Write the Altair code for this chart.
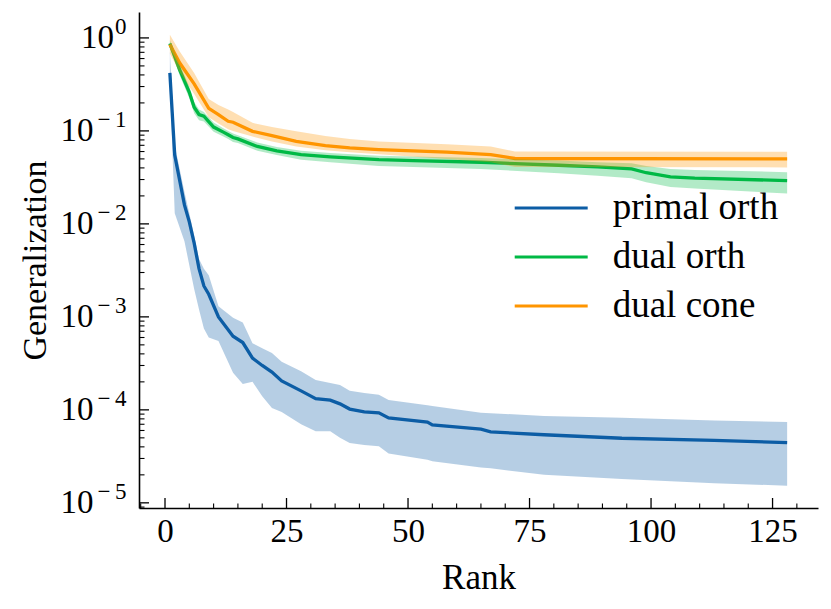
import altair as alt
import pandas as pd

series_names = ["primal orth", "dual orth", "dual cone"]
colors = ["#0C5DA5", "#00B945", "#FF9500"]

primal_rank = [1, 2, 4, 5, 6, 7, 8, 9, 11, 14, 16, 18, 20, 22, 24, 28, 31, 34, 36, 38, 41, 44, 46, 54, 55, 65, 67, 78, 94, 113, 128]
primal_mean = [0.42, 0.055, 0.016, 0.0105, 0.0062, 0.0033, 0.00215, 0.00175, 0.001, 0.00062, 0.00053, 0.00036, 0.0003, 0.000255, 0.000205, 0.00016, 0.000132, 0.000127, 0.000116, 0.000102, 0.000095, 0.000093, 0.000082, 0.000074, 0.000069, 0.000062, 0.000058, 0.000054, 0.0000495, 0.000047, 0.0000445]
primal_hi = [0.72, 0.07, 0.022, 0.013, 0.0075, 0.0042, 0.0033, 0.0028, 0.0013, 0.00098, 0.00087, 0.00052, 0.00046, 0.00041, 0.00033, 0.00026, 0.00021, 0.000195, 0.000185, 0.00016, 0.000152, 0.000145, 0.000128, 0.000112, 0.00011, 0.000093, 0.000092, 0.000086, 0.000082, 0.000077, 0.000074]
primal_lo = [0.33, 0.013, 0.0065, 0.0036, 0.002, 0.0012, 0.00075, 0.0006, 0.00055, 0.00025, 0.00019, 0.0002, 0.00014, 0.000105, 0.000095, 0.00007, 0.000059, 0.000059, 0.00005, 0.000044, 0.000042, 0.0000405, 0.000034, 0.000029, 0.000028, 0.000024, 0.0000235, 0.00002, 0.000018, 0.0000162, 0.0000153]

dorth_rank = [1, 3, 5, 6, 7, 8, 10, 12, 13, 14, 15, 19, 23, 28, 34, 44, 51, 65, 81, 89, 96, 99, 104, 109, 128]
dorth_mean = [0.87, 0.456, 0.26, 0.18, 0.15, 0.144, 0.11, 0.097, 0.091, 0.085, 0.082, 0.068, 0.061, 0.0556, 0.0525, 0.049, 0.048, 0.046, 0.0427, 0.041, 0.039, 0.0355, 0.032, 0.031, 0.0292]
dorth_hi = [0.95, 0.52, 0.30, 0.205, 0.17, 0.16, 0.123, 0.107, 0.1, 0.094, 0.09, 0.075, 0.067, 0.061, 0.058, 0.054, 0.053, 0.051, 0.048, 0.046, 0.045, 0.042, 0.039, 0.038, 0.036]
dorth_lo = [0.78, 0.40, 0.225, 0.155, 0.13, 0.126, 0.098, 0.087, 0.082, 0.076, 0.074, 0.061, 0.055, 0.049, 0.046, 0.042, 0.041, 0.039, 0.035, 0.033, 0.031, 0.028, 0.025, 0.024, 0.0212]

dcone_rank = [1, 3, 6, 9, 11, 13, 14, 18, 22, 27, 33, 38, 44, 58, 67, 72, 128]
dcone_mean = [0.85, 0.54, 0.32, 0.175, 0.15, 0.127, 0.124, 0.099, 0.089, 0.077, 0.0695, 0.0656, 0.063, 0.059, 0.0556, 0.0505, 0.050]
dcone_hi = [1.08, 0.72, 0.42, 0.22, 0.19, 0.17, 0.16, 0.122, 0.11, 0.099, 0.088, 0.082, 0.077, 0.072, 0.068, 0.060, 0.0595]
dcone_lo = [0.68, 0.43, 0.25, 0.14, 0.12, 0.104, 0.1, 0.087, 0.077, 0.068, 0.062, 0.059, 0.056, 0.050, 0.046, 0.041, 0.0405]

y_major = [1e-5, 1e-4, 1e-3, 1e-2, 1e-1, 1e0]
y_minor = [9e-6] + [m * 10.0 ** k for k in range(-5, 0) for m in range(2, 10)]
x_major = [0, 25, 50, 75, 100, 125]
x_minor = [-5] + [v for v in range(5, 135, 5) if v % 25]

rows = []
for name, xs, ms, his, los in [
    ("primal orth", primal_rank, primal_mean, primal_hi, primal_lo),
    ("dual orth", dorth_rank, dorth_mean, dorth_hi, dorth_lo),
    ("dual cone", dcone_rank, dcone_mean, dcone_hi, dcone_lo),
]:
    for i in range(len(xs)):
        rows.append({"series": name, "x": xs[i], "mean": ms[i], "hi": his[i], "lo": los[i]})
df = pd.DataFrame(rows)

W, H = 679, 496
FONT = "Liberation Serif"

xscale = alt.Scale(domain=[-5.35, 134.35], nice=False, zero=False)
yscale = alt.Scale(type="log", domain=[8.8e-6, 1.9], nice=False)

xaxis = alt.Axis(values=x_major, ticks=False, grid=False, domain=True, domainColor="black",
                 domainWidth=1.6, labelFont=FONT, labelFontSize=33, labelColor="black",
                 labelPadding=33, labelBaseline="alphabetic", labelFlush=False, labelOverlap=False,
                 title="Rank", titleFont=FONT, titleFontSize=35, titleFontWeight="normal",
                 titleColor="black", titleY=80, titleBaseline="alphabetic")

x_enc = alt.X("x:Q", scale=xscale, axis=xaxis)

y_main_axis = alt.Axis(values=y_major, labelExpr="'10'", ticks=False, grid=False, domain=True,
                       domainColor="black", domainWidth=1.6, labelFont=FONT, labelFontSize=33,
                       labelColor="black", labelAlign="right", labelOverlap=False, labelFlush=False,
                       labelPadding={"condition": {"test": "datum.value > 0.5", "value": 25.5}, "value": 46},
                       title="Generalization", titleFont=FONT, titleFontSize=34, titleFontWeight="normal",
                       titleColor="black", titleX=-94, titleY=H / 2, titleBaseline="alphabetic",
                       titleAngle=270, orient="left")

y_exp_axis = alt.Axis(values=y_major,
                      labelExpr="datum.value > 0.5 ? '0' : '\u2212\u2009' + round(-log(datum.value) / LN10)",
                      ticks=False, grid=False, domain=False, labelFont=FONT, labelFontSize=23,
                      labelColor="black", labelAlign="right", labelPadding=13, labelOffset=-11,
                      labelOverlap=False, labelFlush=False, title=None, orient="left")

color_scale = alt.Scale(domain=series_names, range=colors)
legend = alt.Legend(orient="none", legendX=383.7, legendY=167.5, title=None,
                    symbolType="M-1.377,0L1.377,0", symbolSize=2809, symbolStrokeWidth=3.2,
                    symbolOpacity=1, symbolFillColor="transparent",
                    labelFont=FONT, labelFontSize=37, labelColor="black", labelLimit=500,
                    labelOffset=33, padding=0, rowPadding=2)
color_enc = alt.Color("series:N", scale=color_scale, legend=legend)

base = alt.Chart(df)

bands = base.mark_area(opacity=0.3, strokeWidth=0).encode(
    x=x_enc,
    y=alt.Y("lo:Q", scale=yscale, axis=None),
    y2="hi:Q",
    color=color_enc,
)

lines = base.mark_line(strokeWidth=3.3).encode(
    x=x_enc,
    y=alt.Y("mean:Q", scale=yscale, axis=y_main_axis),
    color=color_enc,
)

ymaj_df = pd.DataFrame({"v": y_major})
ymin_df = pd.DataFrame({"v": y_minor})
xmaj_df = pd.DataFrame({"x": x_major})
xmin_df = pd.DataFrame({"x": x_minor})

ymaj_ticks = alt.Chart(ymaj_df).mark_rule(color="black", strokeWidth=1.3).encode(
    y=alt.Y("v:Q", scale=yscale, axis=y_exp_axis), x=alt.value(0), x2=alt.value(10))
ymin_ticks = alt.Chart(ymin_df).mark_rule(color="black", strokeWidth=1.1).encode(
    y=alt.Y("v:Q", scale=yscale, axis=None), x=alt.value(0), x2=alt.value(5.5))
xmaj_ticks = alt.Chart(xmaj_df).mark_rule(color="black", strokeWidth=1.3).encode(
    x=x_enc, y=alt.value(H), y2=alt.value(H - 10))
xmin_ticks = alt.Chart(xmin_df).mark_rule(color="black", strokeWidth=1.1).encode(
    x=x_enc, y=alt.value(H), y2=alt.value(H - 4.5))

chart = alt.layer(lines, bands, ymaj_ticks, ymin_ticks, xmaj_ticks, xmin_ticks).resolve_axis(
    y="independent"
).properties(
    width=W, height=H,
    padding={"left": 131, "top": 4, "right": 5, "bottom": 93},
    autosize=alt.AutoSizeParams(type="none"),
).configure_view(stroke=None)

chart.save("out.html", embed_options={"renderer": "svg", "actions": False})
